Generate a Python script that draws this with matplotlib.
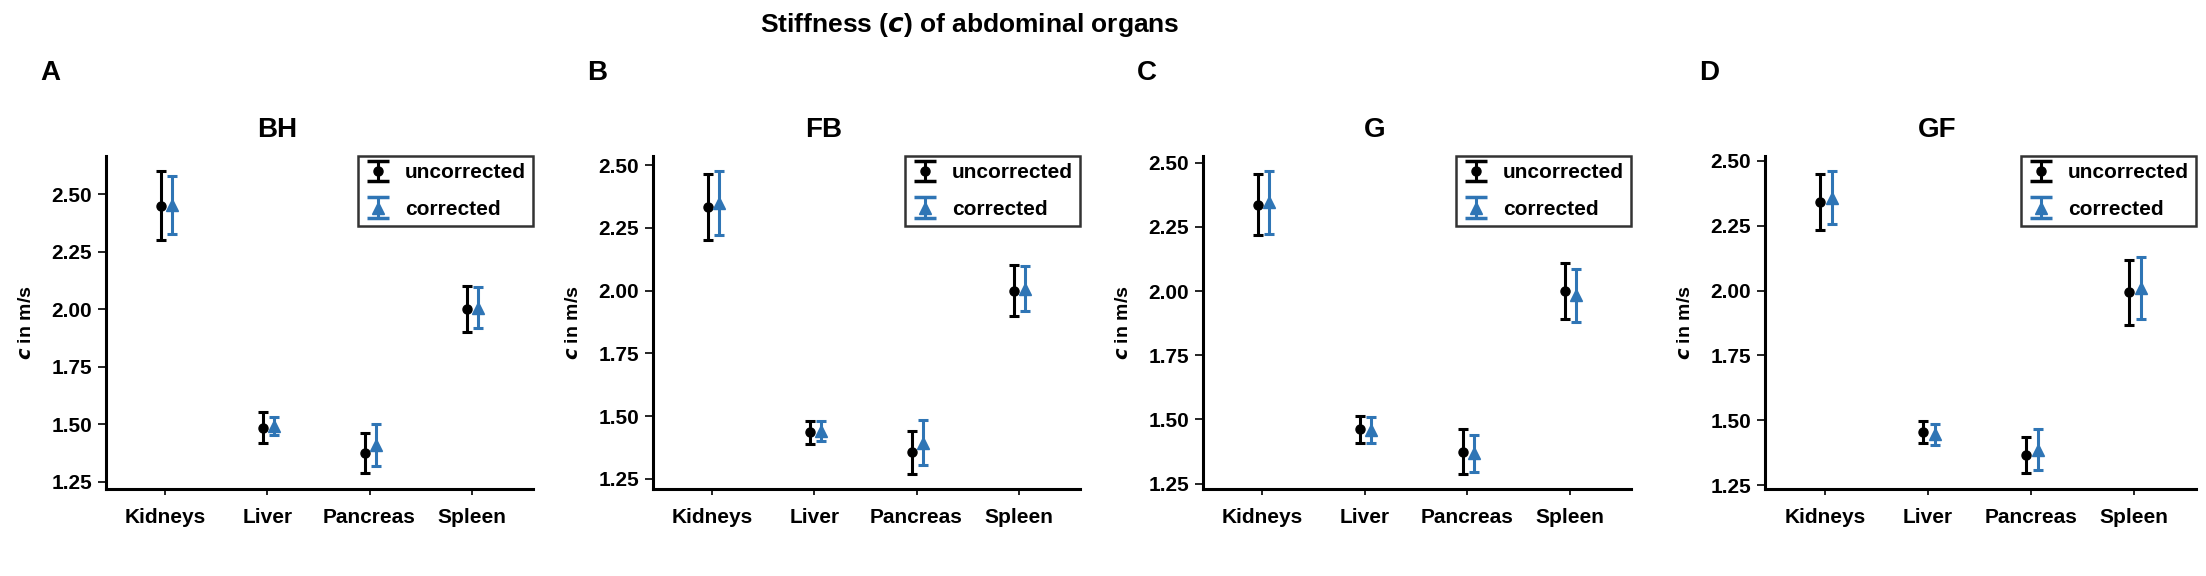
import numpy as np
import matplotlib
matplotlib.use("Agg")
import matplotlib.pyplot as plt
from matplotlib.lines import Line2D
from matplotlib.legend_handler import HandlerErrorbar

plt.rcParams['font.family'] = ['Liberation Sans', 'DejaVu Sans']
plt.rcParams['font.weight'] = 'bold'

organs = ["Kidneys", "Liver", "Pancreas", "Spleen"]
panels = ["BH", "FB", "G", "GF"]
letters = ["A", "B", "C", "D"]

# mean and sd per panel, order: Kidneys, Liver, Pancreas, Spleen
uncorr_mean = {
    "BH": [2.45, 1.485, 1.376, 2.00],
    "FB": [2.332, 1.435, 1.356, 2.00],
    "G":  [2.337, 1.461, 1.375, 2.001],
    "GF": [2.341, 1.454, 1.367, 1.993],
}
uncorr_sd = {
    "BH": [0.15, 0.068, 0.088, 0.10],
    "FB": [0.131, 0.044, 0.085, 0.10],
    "G":  [0.12, 0.054, 0.086, 0.108],
    "GF": [0.108, 0.042, 0.07, 0.126],
}
corr_mean = {
    "BH": [2.455, 1.493, 1.41, 2.006],
    "FB": [2.348, 1.44, 1.395, 2.007],
    "G":  [2.346, 1.459, 1.368, 1.984],
    "GF": [2.358, 1.446, 1.388, 2.009],
}
corr_sd = {
    "BH": [0.126, 0.04, 0.09, 0.089],
    "FB": [0.128, 0.04, 0.091, 0.09],
    "G":  [0.122, 0.052, 0.072, 0.103],
    "GF": [0.102, 0.042, 0.08, 0.12],
}
y_limits = {
    "BH": (1.219, 2.666),
    "FB": (1.210, 2.536),
    "G":  (1.229, 2.526),
    "GF": (1.236, 2.518),
}
y_ticks = [1.25, 1.50, 1.75, 2.00, 2.25, 2.50]

blue = "#2F75B5"


class WideCapHandler(HandlerErrorbar):
    # legend caps in the original are wider than in the plot
    def create_artists(self, *args, **kwargs):
        artists = super().create_artists(*args, **kwargs)
        for a in artists:
            if isinstance(a, Line2D) and a.get_marker() == "_":
                a.set_markersize(16)
                a.set_markeredgewidth(2.5)
        return artists


W, H = 2206, 576
fig = plt.figure(figsize=(W / 100, H / 100), dpi=100)

# axes left/right edges in pixels
ax_px = [(106, 533), (653, 1080), (1203, 1631), (1765, 2196)]
top_px, bot_px = 156, 489

x = np.arange(len(organs))
for i, name in enumerate(panels):
    l, r = ax_px[i]
    ax = fig.add_axes([l / W, 1 - bot_px / H, (r - l) / W, (bot_px - top_px) / H])
    ax.errorbar(x - 0.045, uncorr_mean[name], yerr=uncorr_sd[name], fmt="o",
                color="black", ms=6.5, elinewidth=2.2, capsize=3.5, capthick=2.2,
                label="uncorrected")
    ax.errorbar(x + 0.065, corr_mean[name], yerr=corr_sd[name], fmt="^",
                color=blue, ms=9, elinewidth=2.2, capsize=3.5, capthick=2.2,
                label="corrected")
    ax.set_xlim(-0.58, 3.6)
    ax.set_ylim(*y_limits[name])
    ax.set_yticks(y_ticks)
    ax.set_yticklabels([f"{t:.2f}" for t in y_ticks])
    ax.set_xticks(x)
    ax.set_xticklabels(organs)
    for s in ["top", "right"]:
        ax.spines[s].set_visible(False)
    for s in ["left", "bottom"]:
        ax.spines[s].set_linewidth(2.2)
    ax.tick_params(axis="y", length=6, width=1.2, labelsize=15, pad=4)
    ax.tick_params(axis="x", length=4, width=1.2, labelsize=15, pad=10)
    ax.set_ylabel(r"$\mathbfit{c}$ in m/s", fontsize=14, fontweight="bold", labelpad=12)
    ax.set_title(name, fontsize=20, fontweight="bold", x=0.40, pad=14)
    ax.text(-56 / (r - l), 1 + (156 - 73) / (bot_px - top_px), letters[i],
            transform=ax.transAxes, fontsize=20, fontweight="bold",
            ha="center", va="center")
    leg = ax.legend(loc="upper right", fontsize=15, frameon=True, fancybox=False,
                    borderaxespad=0.0, handlelength=1.2, handletextpad=0.7,
                    borderpad=0.35, labelspacing=0.85,
                    handler_map={type(ax.containers[0]): WideCapHandler()})
    leg.get_frame().set_edgecolor("black")
    leg.get_frame().set_linewidth(1.8)

fig.text(970 / W, 1 - 25 / H, r"Stiffness ($\mathbfit{c}$) of abdominal organs",
         fontsize=19, fontweight="bold", ha="center", va="center")

fig.savefig("out.png", dpi=100)
